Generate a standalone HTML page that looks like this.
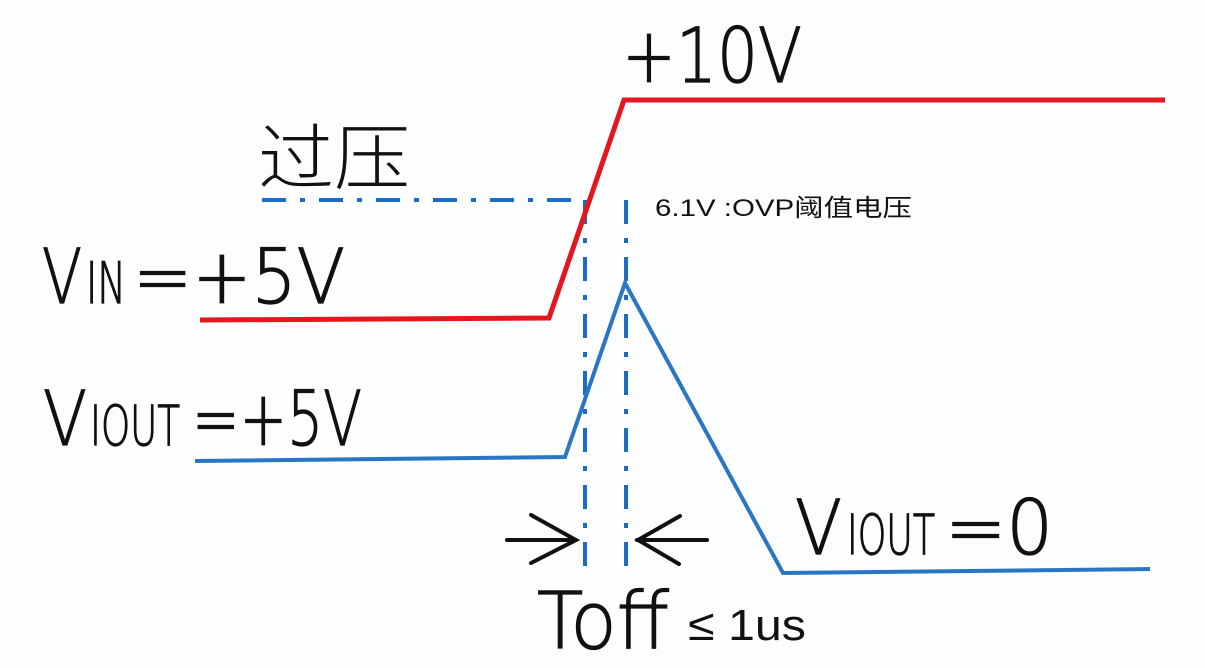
<!DOCTYPE html>
<html><head><meta charset="utf-8"><style>html,body{margin:0;padding:0;background:#fcfdfe}</style></head>
<body>
<svg width="1205" height="663" viewBox="0 0 1205 663" xmlns="http://www.w3.org/2000/svg" font-family="DejaVu Sans, Liberation Sans, Noto Sans CJK SC, sans-serif" font-weight="200" fill="#111">
<rect width="1205" height="663" fill="#fcfdfe"/>
<g stroke="#1c6cc6" stroke-width="4" fill="none" stroke-dasharray="24,14,5,14">
<path d="M262 200 H585"/>
<path d="M585 200 V578"/>
<path d="M626 200 V578"/>
</g>
<path d="M200 320 L549 318 L624 100 L1165 100" stroke="#e3171d" stroke-width="5" fill="none"/>
<path d="M195 461 L565 457 L625 283 L783 573 L1150 569" stroke="#2b76c4" stroke-width="4" fill="none"/>
<g stroke="#111" stroke-width="4" fill="none" stroke-linecap="round">
<path d="M507 540 H575"/><path d="M531 515 L576 540 L531 563"/>
<path d="M637 540 H707"/><path d="M680 516 L638 540 L679 564"/>
</g>
<g stroke="#111" stroke-width="1.2">
<text x="622" y="82" font-size="76" textLength="180" lengthAdjust="spacingAndGlyphs">+10V</text>
<text x="42" y="303" font-size="76" textLength="40" lengthAdjust="spacingAndGlyphs">V</text>
<text x="86" y="303" font-size="57" textLength="40" lengthAdjust="spacingAndGlyphs">IN</text>
<text x="133" y="303" font-size="76" textLength="212" lengthAdjust="spacingAndGlyphs">=+5V</text>
<text x="43" y="445" font-size="76" textLength="44" lengthAdjust="spacingAndGlyphs">V</text>
<text x="90" y="445" font-size="55" textLength="90" lengthAdjust="spacingAndGlyphs">IOUT</text>
<text x="192" y="445" font-size="76" textLength="170" lengthAdjust="spacingAndGlyphs">=+5V</text>
<text x="795" y="554" font-size="76" textLength="47" lengthAdjust="spacingAndGlyphs">V</text>
<text x="847" y="554" font-size="55" textLength="88" lengthAdjust="spacingAndGlyphs">IOUT</text>
<text x="945" y="554" font-size="76" textLength="108" lengthAdjust="spacingAndGlyphs">=0</text>
<text x="537" y="648" font-size="78" textLength="132" lengthAdjust="spacingAndGlyphs">Toff</text>
</g>
<text x="258" y="184" font-size="72" font-family="Noto Sans CJK SC, sans-serif" font-weight="300" textLength="152" lengthAdjust="spacingAndGlyphs">过压</text>
<text x="655" y="216" font-size="24" font-family="Liberation Sans, Noto Sans CJK SC, sans-serif" font-weight="400" textLength="257" lengthAdjust="spacingAndGlyphs">6.1V :OVP阈值电压</text>
<text x="688" y="640" font-size="44" font-family="Liberation Sans, sans-serif" font-weight="400" textLength="118" lengthAdjust="spacingAndGlyphs">≤ 1us</text>
</svg>
</body></html>
